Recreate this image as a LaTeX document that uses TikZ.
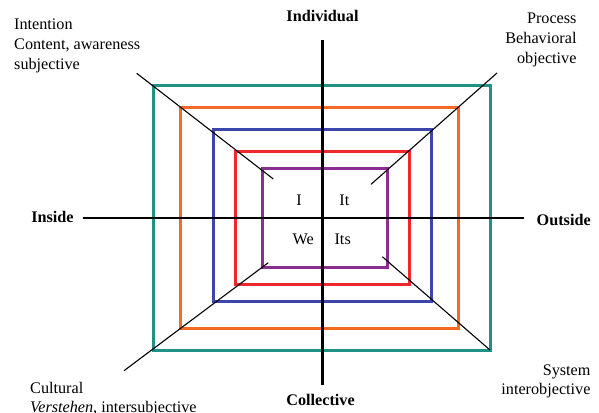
\documentclass[tikz,border=0pt]{standalone}
\usepackage{fontspec}
\setmainfont{Liberation Serif}
\definecolor{cteal}{RGB}{32,145,135}
\definecolor{corange}{RGB}{245,105,35}
\definecolor{cblue}{RGB}{60,70,170}
\definecolor{cred}{RGB}{240,40,45}
\definecolor{cpurple}{RGB}{140,45,145}
\begin{document}
\begin{tikzpicture}[x=1pt,y=-1pt,
  lbl/.style={inner sep=0pt, font=\fontsize{16.2}{19}\selectfont},
  blbl/.style={inner sep=0pt, font=\fontsize{16.2}{19}\selectfont\bfseries},
  box/.style={line width=3pt},
  axisline/.style={line width=2.6pt, black},
  diag/.style={line width=1.1pt, black}]
\useasboundingbox (0,0) rectangle (599,412);
% nested boxes
\draw[box, cteal]   (153.3,85)    rectangle (490.3,350.5);
\draw[box, corange] (180.8,107.3) rectangle (458.7,328.7);
\draw[box, cblue]   (213.3,129.3) rectangle (431.3,301);
\draw[box, cred]    (235.7,151.7) rectangle (409.3,284);
\draw[box, cpurple] (262.3,168.6) rectangle (387.7,267.7);
% axis end points
\coordinate (vt) at (322.3,40);
\coordinate (vb) at (322.3,384.5);
\coordinate (hl) at (82.7,218);
\coordinate (hr) at (524,218);
\draw[axisline] (vt) -- (vb);
\draw[axisline] (hl) -- (hr);
% diagonals
\coordinate (tla) at (136.7,73.3);
\coordinate (tlb) at (273.3,179);
\coordinate (tra) at (497,73);
\coordinate (trb) at (371,184.3);
\coordinate (bra) at (382.3,256.7);
\coordinate (brb) at (490,350);
\coordinate (bla) at (268.3,262.7);
\coordinate (blb) at (124,370.7);
\draw[diag] (tla) -- (tlb);
\draw[diag] (tra) -- (trb);
\draw[diag] (bra) -- (brb);
\draw[diag] (bla) -- (blb);
% axis labels
\node[blbl, anchor=base] (indiv) at (322.5,22) {Individual};
\node[blbl, anchor=base] (coll) at (320.5,405.7) {Collective};
\node[blbl, anchor=base] (inside) at (52.5,222.3) {Inside};
\node[blbl, anchor=base] (outside) at (563.7,225.5) {Outside};
% quadrant labels
\node[lbl, anchor=base] (qI) at (299,205) {I};
\node[lbl, anchor=base] (qIt) at (344.3,205) {It};
\node[lbl, anchor=base] (qWe) at (303.3,244.3) {We};
\node[lbl, anchor=base] (qIts) at (342.7,244.3) {Its};
% corner labels
\node[lbl, anchor=base west] (tl1) at (14,30) {Intention};
\node[lbl, anchor=base west] (tl2) at (14,49.8) {Content, awareness};
\node[lbl, anchor=base west] (tl3) at (14,69.3) {subjective};
\node[lbl, anchor=base east] (tr1) at (576.7,24) {Process};
\node[lbl, anchor=base east] (tr2) at (576.7,44) {Behavioral};
\node[lbl, anchor=base east] (tr3) at (576.7,63.7) {objective};
\node[lbl, anchor=base east] (br1) at (590.7,375) {System};
\node[lbl, anchor=base east] (br2) at (590.7,394) {interobjective};
\node[lbl, anchor=base west] (bl1) at (30,393.3) {Cultural};
\node[lbl, anchor=base west] (bl2) at (30,412.3) {\textit{Verstehen}, intersubjective};
\end{tikzpicture}
\end{document}
